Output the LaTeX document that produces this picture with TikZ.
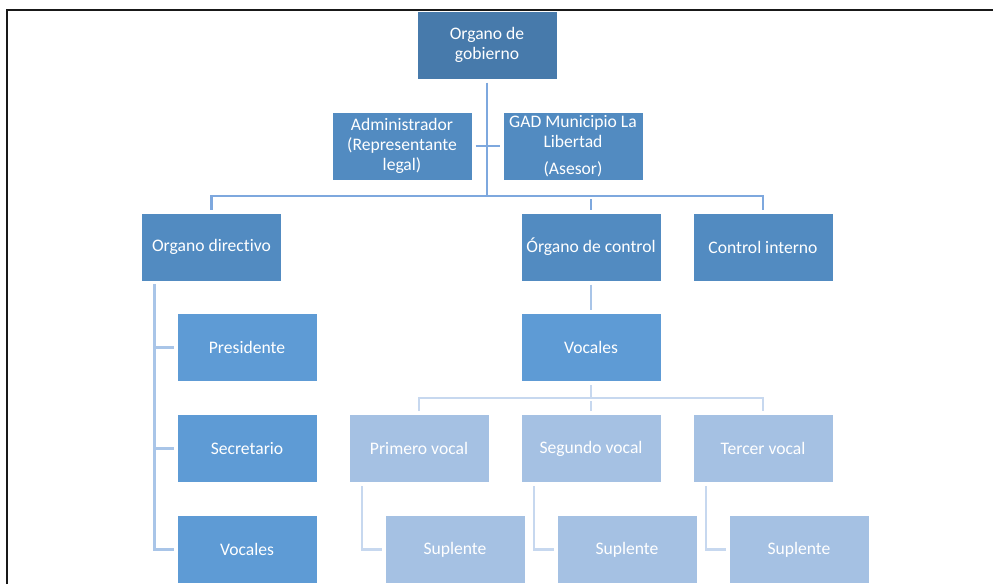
\documentclass[tikz,border=0pt]{standalone}
\usepackage{fontspec}
\setmainfont{Carlito}[Ligatures={NoCommon}]
\definecolor{bxA}{RGB}{71,122,171}
\definecolor{bxB}{RGB}{82,139,193}
\definecolor{bxC}{RGB}{94,155,213}
\definecolor{bxD}{RGB}{165,193,227}
\definecolor{lnA}{RGB}{126,168,222}
\definecolor{lnB}{RGB}{169,197,232}
\definecolor{lnC}{RGB}{199,216,239}
\tikzset{
  box/.style={draw=white, line width=1pt, minimum width=140pt, minimum height=68pt,
    inner sep=2pt, text=white, align=center,
    font=\fontsize{17.6}{20}\selectfont},
  conn/.style={line width=2.6pt, shorten <=3pt, shorten >=3pt},
  connS/.style={line width=2.6pt, shorten >=2.5pt},
}
\begin{document}
\begin{tikzpicture}[x=1pt,y=-1pt]
\useasboundingbox (0,0) rectangle (993,584);
% page border
\draw[black!90, line width=2pt] (7,584) -- (7,9.5) -- (993,9.5);
% boxes
\node[box, fill=bxA] (gob) at (487,45) {\raisebox{-1.5pt}{\parbox{130pt}{\centering Organo de\\gobierno}}};
\node[box, fill=bxB] (adm) at (402,146) {Administrador\\(Representante\\legal)};
\node[box, fill=bxB] (gad) at (573,146) {GAD Municipio La\\Libertad\\[7pt](Asesor)};
\node[box, fill=bxB] (dir) at (211.5,247) {\raisebox{-1.5pt}{Organo directivo}};
\node[box, fill=bxB] (ctl) at (591,247) {\raisebox{-1.5pt}{Órgano de control}};
\node[box, fill=bxB] (intn) at (763,247) {\raisebox{-1.5pt}{Control interno}};
\node[box, fill=bxC] (pres) at (247,347.5) {\raisebox{-1pt}{Presidente}};
\node[box, fill=bxC] (sec) at (247,448.5) {\raisebox{-1pt}{Secretario}};
\node[box, fill=bxC] (vocL) at (247,549.5) {\raisebox{-1pt}{Vocales}};
\node[box, fill=bxC] (vocR) at (591,347.5) {\raisebox{-1pt}{Vocales}};
\node[box, fill=bxD] (v1) at (419,448.5) {\raisebox{-1pt}{Primero vocal}};
\node[box, fill=bxD] (v2) at (591,448.5) {\raisebox{-1pt}{Segundo vocal}};
\node[box, fill=bxD] (v3) at (763,448.5) {\raisebox{-1pt}{Tercer vocal}};
\node[box, fill=bxD] (s1) at (455,549.5) {\raisebox{-1pt}{Suplente}};
\node[box, fill=bxD] (s2) at (627,549.5) {\raisebox{-1pt}{Suplente}};
\node[box, fill=bxD] (s3) at (799,549.5) {\raisebox{-1pt}{Suplente}};
% junction coordinates
\coordinate (h1) at (487,196);
\coordinate (h2) at (591,398);
\coordinate (d0) at (154.5,284);
\coordinate (p1) at (362,486);
\coordinate (p2) at (534,486);
\coordinate (p3) at (706,486);
% connectors, top level
\draw[lnA, line width=2.6pt, shorten <=3pt] (gob.south) -- (h1);
\draw[lnA, conn] (dir.north) |- (h1) -| (intn.north);
\draw[lnA, conn] (ctl.north) -- (ctl.north |- h1);
\draw[lnA, conn] (adm.east) -- (gad.west);
% directivo side
\draw[lnB, connS] (d0) |- (pres.west);
\draw[lnB, connS] (d0) |- (sec.west);
\draw[lnB, connS] (d0) |- (vocL.west);
% control branch
\draw[lnB, conn] (ctl.south) -- (vocR.north);
\draw[lnC, line width=2.6pt, shorten <=3pt] (vocR.south) -- (h2);
\draw[lnC, conn] (v1.north) |- (h2) -| (v3.north);
\draw[lnC, conn] (v2.north) -- (v2.north |- h2);
% suplentes
\draw[lnC, connS] (p1) |- (s1.west);
\draw[lnC, connS] (p2) |- (s2.west);
\draw[lnC, connS] (p3) |- (s3.west);
\end{tikzpicture}
\end{document}
